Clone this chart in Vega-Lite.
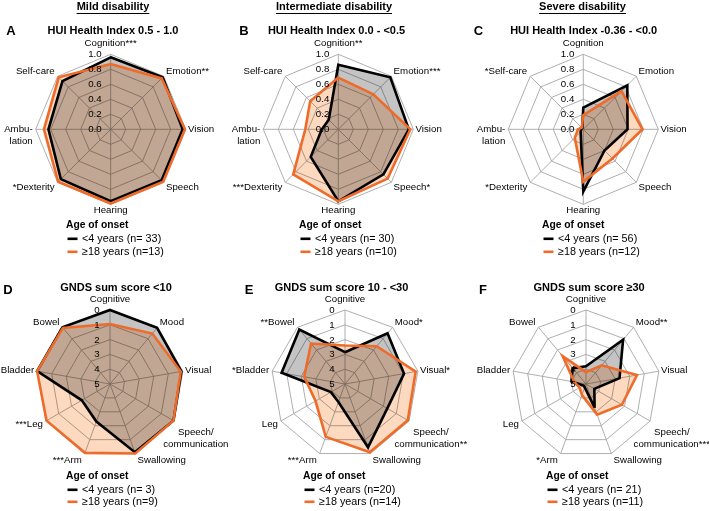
{
"$schema": "https://vega.github.io/schema/vega-lite/v6.json",
"padding": 0,
"config": {
 "font": "Liberation Sans",
 "view": {"stroke": null},
 "text": {"fontSize": 9.7, "lineBreak": "\n", "lineHeight": 12, "color": "#000", "baseline": "middle"},
 "legend": {"orient": "none", "direction": "vertical", "titleFontSize": 10.3, "titleFontWeight": "bold", "titleColor": "#000", "labelFontSize": 10.8, "labelColor": "#000", "symbolType": "stroke", "symbolStrokeWidth": 2.6, "symbolSize": 100, "rowPadding": 1, "titlePadding": 2, "labelOffset": 3, "padding": 0}
},
"datasets": {
 "rg": [{"n": 8, "g": [0.2, 0.4, 0.6, 0.8, 1.0], "t": [0, 0.2, 0.4, 0.6, 0.8, 1.0]}, {"n": 9, "g": [0, 1, 2, 3, 4], "t": [0, 1, 2, 3, 4, 5]}],
 "lg": [
  {"p": "A", "lb": "<4 years (n= 33)", "lo": "≥18 years (n=13)"},
  {"p": "B", "lb": "<4 years (n= 30)", "lo": "≥18 years (n=10)"},
  {"p": "C", "lb": "<4 years (n= 56)", "lo": "≥18 years (n=12)"},
  {"p": "D", "lb": "<4 years (n= 3)", "lo": "≥18 years (n=9)"},
  {"p": "E", "lb": "<4 years (n=20)", "lo": "≥18 years (n=14)"},
  {"p": "F", "lb": "<4 years (n= 21)", "lo": "≥18 years (n=11)"}
 ],
 "ax": [
  {"p": "A", "i": 0, "n": 8, "lab": "Cognition***", "vb": 0.96, "vo": 0.87},
  {"p": "A", "i": 1, "n": 8, "lab": "Emotion**", "vb": 0.98, "vo": 0.96},
  {"p": "A", "i": 2, "n": 8, "lab": "Vision", "vb": 0.96, "vo": 0.99},
  {"p": "A", "i": 3, "n": 8, "lab": "Speech", "vb": 0.96, "vo": 0.99},
  {"p": "A", "i": 4, "n": 8, "lab": "Hearing", "vb": 0.96, "vo": 0.99},
  {"p": "A", "i": 5, "n": 8, "lab": "*Dexterity", "vb": 0.94, "vo": 0.99},
  {"p": "A", "i": 6, "n": 8, "lab": "Ambu-\nlation", "vb": 0.83, "vo": 0.89},
  {"p": "A", "i": 7, "n": 8, "lab": "Self-care", "vb": 0.91, "vo": 0.98},
  {"p": "B", "i": 0, "n": 8, "lab": "Cognition**", "vb": 0.86, "vo": 0.69},
  {"p": "B", "i": 1, "n": 8, "lab": "Emotion***", "vb": 0.98, "vo": 0.66},
  {"p": "B", "i": 2, "n": 8, "lab": "Vision", "vb": 0.94, "vo": 0.96},
  {"p": "B", "i": 3, "n": 8, "lab": "Speech*", "vb": 0.85, "vo": 0.93},
  {"p": "B", "i": 4, "n": 8, "lab": "Hearing", "vb": 0.96, "vo": 0.96},
  {"p": "B", "i": 5, "n": 8, "lab": "***Dexterity", "vb": 0.52, "vo": 0.85},
  {"p": "B", "i": 6, "n": 8, "lab": "Ambu-\nlation", "vb": 0.22, "vo": 0.44},
  {"p": "B", "i": 7, "n": 8, "lab": "Self-care", "vb": 0.18, "vo": 0.53},
  {"p": "C", "i": 0, "n": 8, "lab": "Cognition", "vb": 0.29, "vo": 0.19},
  {"p": "C", "i": 1, "n": 8, "lab": "Emotion", "vb": 0.83, "vo": 0.72},
  {"p": "C", "i": 2, "n": 8, "lab": "Vision", "vb": 0.59, "vo": 0.79},
  {"p": "C", "i": 3, "n": 8, "lab": "Speech", "vb": 0.40, "vo": 0.55},
  {"p": "C", "i": 4, "n": 8, "lab": "Hearing", "vb": 0.83, "vo": 0.70},
  {"p": "C", "i": 5, "n": 8, "lab": "*Dexterity", "vb": 0.05, "vo": 0.16},
  {"p": "C", "i": 6, "n": 8, "lab": "Ambu-\nlation", "vb": 0.03, "vo": 0.07},
  {"p": "C", "i": 7, "n": 8, "lab": "*Self-care", "vb": 0.02, "vo": 0.03},
  {"p": "D", "i": 0, "n": 9, "lab": "Cognitive", "vb": 0, "vo": 0.95},
  {"p": "D", "i": 1, "n": 9, "lab": "Mood", "vb": 0.05, "vo": 0.55},
  {"p": "D", "i": 2, "n": 9, "lab": "Visual", "vb": 0.1, "vo": 0.15},
  {"p": "D", "i": 3, "n": 9, "lab": "Speech/\ncommunication", "vb": 0.05, "vo": 0.05},
  {"p": "D", "i": 4, "n": 9, "lab": "Swallowing", "vb": 0.1, "vo": 0},
  {"p": "D", "i": 5, "n": 9, "lab": "***Arm", "vb": 2.3, "vo": 0.05},
  {"p": "D", "i": 6, "n": 9, "lab": "***Leg", "vb": 2.8, "vo": 0.05},
  {"p": "D", "i": 7, "n": 9, "lab": "Bladder", "vb": 0, "vo": 0},
  {"p": "D", "i": 8, "n": 9, "lab": "Bowel", "vb": 0, "vo": 0.05},
  {"p": "E", "i": 0, "n": 9, "lab": "Cognitive", "vb": 2.85, "vo": 2.4},
  {"p": "E", "i": 1, "n": 9, "lab": "Mood*", "vb": 0.53, "vo": 1.67},
  {"p": "E", "i": 2, "n": 9, "lab": "Visual*", "vb": 0.95, "vo": 0.15},
  {"p": "E", "i": 3, "n": 9, "lab": "Speech/\ncommunication**", "vb": 1.7, "vo": 0.1},
  {"p": "E", "i": 4, "n": 9, "lab": "Swallowing", "vb": 0.45, "vo": 0.1},
  {"p": "E", "i": 5, "n": 9, "lab": "***Arm", "vb": 3.7, "vo": 1.2},
  {"p": "E", "i": 6, "n": 9, "lab": "Leg", "vb": 3.9, "vo": 2.7},
  {"p": "E", "i": 7, "n": 9, "lab": "*Bladder", "vb": 0.65, "vo": 2.2},
  {"p": "E", "i": 8, "n": 9, "lab": "**Bowel", "vb": 0.2, "vo": 1.43},
  {"p": "F", "i": 0, "n": 9, "lab": "Cognitive", "vb": 3.8, "vo": 4.2},
  {"p": "F", "i": 1, "n": 9, "lab": "Mood**", "vb": 1.1, "vo": 3.35},
  {"p": "F", "i": 2, "n": 9, "lab": "Visual", "vb": 2.7, "vo": 1.5},
  {"p": "F", "i": 3, "n": 9, "lab": "Speech/\ncommunication***", "vb": 4.35, "vo": 2.2},
  {"p": "F", "i": 4, "n": 9, "lab": "Swallowing", "vb": 3.3, "vo": 2.8},
  {"p": "F", "i": 5, "n": 9, "lab": "*Arm", "vb": 4.75, "vo": 4.2},
  {"p": "F", "i": 6, "n": 9, "lab": "Leg", "vb": 4.8, "vo": 4.5},
  {"p": "F", "i": 7, "n": 9, "lab": "Bladder", "vb": 4.0, "vo": 4.2},
  {"p": "F", "i": 8, "n": 9, "lab": "Bowel", "vb": 3.6, "vo": 2.55}
 ]
},
"data": {"name": "ax"},
"spacing": 20,
"resolve": {"scale": {"stroke": "independent", "fill": "independent"}, "legend": {"stroke": "independent"}},
"vconcat": [
{"spacing": 0,
 "resolve": {"scale": {"stroke": "independent", "fill": "independent"}, "legend": {"stroke": "independent"}},
 "hconcat": [
 {"width": 224, "height": 216,
  "transform": [{"filter": "datum.p=='A'"}, {"calculate": "2*PI*datum.i/datum.n", "as": "a"}],
  "encoding": {
   "x": {"field": "x", "type": "quantitative", "scale": {"domain": [-1.476, 1.5107], "nice": false, "zero": false}, "axis": null},
   "y": {"field": "y", "type": "quantitative", "scale": {"domain": [-1.156, 1.724], "nice": false, "zero": false}, "axis": null}},
  "layer": [
   {"transform": [{"lookup": "n", "from": {"data": {"name": "rg"}, "key": "n", "fields": ["g"]}}, {"flatten": ["g"]}, {"calculate": "datum.n==8?datum.g:(5-datum.g)/5", "as": "r"}, {"calculate": "datum.r*sin(datum.a)", "as": "x"}, {"calculate": "datum.r*cos(datum.a)", "as": "y"}],
    "mark": {"type": "line", "interpolate": "linear-closed", "stroke": "#a6a6a6", "strokeWidth": 0.9},
    "encoding": {"detail": {"field": "g", "type": "nominal"}, "order": {"field": "i", "type": "quantitative"}}},
   {"transform": [{"calculate": "sin(datum.a)", "as": "x"}, {"calculate": "cos(datum.a)", "as": "y"}, {"calculate": "0", "as": "z"}],
    "mark": {"type": "rule", "stroke": "#a6a6a6", "strokeWidth": 0.9},
    "encoding": {"x2": {"field": "z"}, "y2": {"field": "z"}}},
   {"transform": [{"lookup": "p", "from": {"data": {"name": "lg"}, "key": "p", "fields": ["lb", "lo"]}}, {"fold": ["vb", "vo"], "as": ["k", "v"]}, {"calculate": "datum.n==8?datum.v:(5-datum.v)/5", "as": "r"}, {"calculate": "datum.r*sin(datum.a)", "as": "x"}, {"calculate": "datum.r*cos(datum.a)", "as": "y"}, {"calculate": "datum.k=='vb'?datum.lb:datum.lo", "as": "grp"}],
    "encoding": {"order": {"field": "i", "type": "quantitative"}},
    "layer": [
     {"mark": {"type": "line", "interpolate": "linear-closed", "filled": true, "blend": "multiply", "strokeWidth": 0},
      "encoding": {"fill": {"field": "k", "type": "nominal", "scale": {"domain": ["vb", "vo"], "range": ["#c4c4c4", "#fcd9bf"]}, "legend": null}}},
     {"mark": {"type": "line", "interpolate": "linear-closed", "strokeWidth": 2.6},
      "encoding": {"stroke": {"field": "grp", "type": "nominal", "scale": {"range": ["#000000", "#ee6b2a"]}, "legend": {"title": "Age of onset", "legendX": 66, "legendY": 220}}}}]},
   {"transform": [{"calculate": "sin(datum.a)", "as": "s"}, {"calculate": "cos(datum.a)", "as": "c"}, {"calculate": "indexof(datum.lab,'\\n')>=0", "as": "ml"}],
    "encoding": {"text": {"field": "lab", "type": "nominal"}},
    "layer": [
     {"transform": [{"filter": "datum.s>0.1 && !datum.ml"}, {"calculate": "datum.s+0.03", "as": "x"}, {"calculate": "datum.c*1.09", "as": "y"}], "mark": {"type": "text", "align": "left"}},
     {"transform": [{"filter": "datum.s<-0.1"}, {"calculate": "datum.s-0.04", "as": "x"}, {"calculate": "datum.c*1.09", "as": "y"}], "mark": {"type": "text", "align": "right"}},
     {"transform": [{"filter": "abs(datum.s)<=0.1 || (datum.ml && datum.s>0)"}, {"calculate": "datum.ml?1.16:0", "as": "x"}, {"calculate": "datum.i==0?1.15:(datum.ml?-0.655:-1.07)", "as": "y"}], "mark": {"type": "text", "align": "center"}}]},
   {"transform": [{"filter": "datum.i==0"}, {"lookup": "n", "from": {"data": {"name": "rg"}, "key": "n", "fields": ["t"]}}, {"flatten": ["t"]}, {"calculate": "datum.n==8?datum.t:(5-datum.t)/5", "as": "y"}, {"calculate": "-0.12", "as": "x"}, {"calculate": "datum.n==8?format(datum.t,'.1f'):format(datum.t,'d')", "as": "tl"}],
    "mark": {"type": "text", "align": "right"}, "encoding": {"text": {"field": "tl", "type": "nominal"}}},
   {"transform": [{"filter": "datum.i==0"}, {"calculate": "-1.33", "as": "x"}, {"calculate": "1.311", "as": "y"}],
    "mark": {"type": "text", "align": "center", "fontSize": 13, "fontWeight": "bold"}, "encoding": {"text": {"field": "p", "type": "nominal"}}},
   {"transform": [{"filter": "datum.i==0"}, {"calculate": "0.031", "as": "x"}, {"calculate": "1.311", "as": "y"}],
    "mark": {"type": "text", "align": "center", "fontSize": 11, "fontWeight": "bold", "text": "HUI Health Index 0.5 - 1.0"}, "encoding": {}},
   {"transform": [{"filter": "datum.i==0"}, {"calculate": "0.031", "as": "x"}, {"calculate": "1.631", "as": "y"}],
    "mark": {"type": "text", "align": "center", "fontSize": 11, "fontWeight": "bold", "text": "Mild disability"}, "encoding": {}},
   {"transform": [{"filter": "datum.i==0"}, {"calculate": "-0.455", "as": "x"}, {"calculate": "0.516", "as": "xe"}, {"calculate": "1.544", "as": "y"}],
    "mark": {"type": "rule", "stroke": "#000", "strokeWidth": 1}, "encoding": {"x2": {"field": "xe"}}}
  ]},
 {"width": 241, "height": 216,
  "transform": [{"filter": "datum.p=='B'"}, {"calculate": "2*PI*datum.i/datum.n", "as": "a"}],
  "encoding": {
   "x": {"field": "x", "type": "quantitative", "scale": {"domain": [-1.524, 1.689], "nice": false, "zero": false}, "axis": null},
   "y": {"field": "y", "type": "quantitative", "scale": {"domain": [-1.156, 1.724], "nice": false, "zero": false}, "axis": null}},
  "layer": [
   {"transform": [{"lookup": "n", "from": {"data": {"name": "rg"}, "key": "n", "fields": ["g"]}}, {"flatten": ["g"]}, {"calculate": "datum.n==8?datum.g:(5-datum.g)/5", "as": "r"}, {"calculate": "datum.r*sin(datum.a)", "as": "x"}, {"calculate": "datum.r*cos(datum.a)", "as": "y"}],
    "mark": {"type": "line", "interpolate": "linear-closed", "stroke": "#a6a6a6", "strokeWidth": 0.9},
    "encoding": {"detail": {"field": "g", "type": "nominal"}, "order": {"field": "i", "type": "quantitative"}}},
   {"transform": [{"calculate": "sin(datum.a)", "as": "x"}, {"calculate": "cos(datum.a)", "as": "y"}, {"calculate": "0", "as": "z"}],
    "mark": {"type": "rule", "stroke": "#a6a6a6", "strokeWidth": 0.9},
    "encoding": {"x2": {"field": "z"}, "y2": {"field": "z"}}},
   {"transform": [{"lookup": "p", "from": {"data": {"name": "lg"}, "key": "p", "fields": ["lb", "lo"]}}, {"fold": ["vb", "vo"], "as": ["k", "v"]}, {"calculate": "datum.n==8?datum.v:(5-datum.v)/5", "as": "r"}, {"calculate": "datum.r*sin(datum.a)", "as": "x"}, {"calculate": "datum.r*cos(datum.a)", "as": "y"}, {"calculate": "datum.k=='vb'?datum.lb:datum.lo", "as": "grp"}],
    "encoding": {"order": {"field": "i", "type": "quantitative"}},
    "layer": [
     {"mark": {"type": "line", "interpolate": "linear-closed", "filled": true, "blend": "multiply", "strokeWidth": 0},
      "encoding": {"fill": {"field": "k", "type": "nominal", "scale": {"domain": ["vb", "vo"], "range": ["#c4c4c4", "#fcd9bf"]}, "legend": null}}},
     {"mark": {"type": "line", "interpolate": "linear-closed", "strokeWidth": 2.6},
      "encoding": {"stroke": {"field": "grp", "type": "nominal", "scale": {"range": ["#000000", "#ee6b2a"]}, "legend": {"title": "Age of onset", "legendX": 75, "legendY": 220}}}}]},
   {"transform": [{"calculate": "sin(datum.a)", "as": "s"}, {"calculate": "cos(datum.a)", "as": "c"}, {"calculate": "indexof(datum.lab,'\\n')>=0", "as": "ml"}],
    "encoding": {"text": {"field": "lab", "type": "nominal"}},
    "layer": [
     {"transform": [{"filter": "datum.s>0.1 && !datum.ml"}, {"calculate": "datum.s+0.03", "as": "x"}, {"calculate": "datum.c*1.09", "as": "y"}], "mark": {"type": "text", "align": "left"}},
     {"transform": [{"filter": "datum.s<-0.1"}, {"calculate": "datum.s-0.04", "as": "x"}, {"calculate": "datum.c*1.09", "as": "y"}], "mark": {"type": "text", "align": "right"}},
     {"transform": [{"filter": "abs(datum.s)<=0.1 || (datum.ml && datum.s>0)"}, {"calculate": "datum.ml?1.16:0", "as": "x"}, {"calculate": "datum.i==0?1.15:(datum.ml?-0.655:-1.07)", "as": "y"}], "mark": {"type": "text", "align": "center"}}]},
   {"transform": [{"filter": "datum.i==0"}, {"lookup": "n", "from": {"data": {"name": "rg"}, "key": "n", "fields": ["t"]}}, {"flatten": ["t"]}, {"calculate": "datum.n==8?datum.t:(5-datum.t)/5", "as": "y"}, {"calculate": "-0.12", "as": "x"}, {"calculate": "datum.n==8?format(datum.t,'.1f'):format(datum.t,'d')", "as": "tl"}],
    "mark": {"type": "text", "align": "right"}, "encoding": {"text": {"field": "tl", "type": "nominal"}}},
   {"transform": [{"filter": "datum.i==0"}, {"calculate": "-1.257", "as": "x"}, {"calculate": "1.311", "as": "y"}],
    "mark": {"type": "text", "align": "center", "fontSize": 13, "fontWeight": "bold"}, "encoding": {"text": {"field": "p", "type": "nominal"}}},
   {"transform": [{"filter": "datum.i==0"}, {"calculate": "-0.024", "as": "x"}, {"calculate": "1.311", "as": "y"}],
    "mark": {"type": "text", "align": "center", "fontSize": 11, "fontWeight": "bold", "text": "HUI Health Index 0.0 - <0.5"}, "encoding": {}},
   {"transform": [{"filter": "datum.i==0"}, {"calculate": "-0.057", "as": "x"}, {"calculate": "1.631", "as": "y"}],
    "mark": {"type": "text", "align": "center", "fontSize": 11, "fontWeight": "bold", "text": "Intermediate disability"}, "encoding": {}},
   {"transform": [{"filter": "datum.i==0"}, {"calculate": "-0.831", "as": "x"}, {"calculate": "0.716", "as": "xe"}, {"calculate": "1.544", "as": "y"}],
    "mark": {"type": "rule", "stroke": "#000", "strokeWidth": 1}, "encoding": {"x2": {"field": "xe"}}}
  ]},
 {"width": 244, "height": 216,
  "transform": [{"filter": "datum.p=='C'"}, {"calculate": "2*PI*datum.i/datum.n", "as": "a"}],
  "encoding": {
   "x": {"field": "x", "type": "quantitative", "scale": {"domain": [-1.577, 1.676], "nice": false, "zero": false}, "axis": null},
   "y": {"field": "y", "type": "quantitative", "scale": {"domain": [-1.156, 1.724], "nice": false, "zero": false}, "axis": null}},
  "layer": [
   {"transform": [{"lookup": "n", "from": {"data": {"name": "rg"}, "key": "n", "fields": ["g"]}}, {"flatten": ["g"]}, {"calculate": "datum.n==8?datum.g:(5-datum.g)/5", "as": "r"}, {"calculate": "datum.r*sin(datum.a)", "as": "x"}, {"calculate": "datum.r*cos(datum.a)", "as": "y"}],
    "mark": {"type": "line", "interpolate": "linear-closed", "stroke": "#a6a6a6", "strokeWidth": 0.9},
    "encoding": {"detail": {"field": "g", "type": "nominal"}, "order": {"field": "i", "type": "quantitative"}}},
   {"transform": [{"calculate": "sin(datum.a)", "as": "x"}, {"calculate": "cos(datum.a)", "as": "y"}, {"calculate": "0", "as": "z"}],
    "mark": {"type": "rule", "stroke": "#a6a6a6", "strokeWidth": 0.9},
    "encoding": {"x2": {"field": "z"}, "y2": {"field": "z"}}},
   {"transform": [{"lookup": "p", "from": {"data": {"name": "lg"}, "key": "p", "fields": ["lb", "lo"]}}, {"fold": ["vb", "vo"], "as": ["k", "v"]}, {"calculate": "datum.n==8?datum.v:(5-datum.v)/5", "as": "r"}, {"calculate": "datum.r*sin(datum.a)", "as": "x"}, {"calculate": "datum.r*cos(datum.a)", "as": "y"}, {"calculate": "datum.k=='vb'?datum.lb:datum.lo", "as": "grp"}],
    "encoding": {"order": {"field": "i", "type": "quantitative"}},
    "layer": [
     {"mark": {"type": "line", "interpolate": "linear-closed", "filled": true, "blend": "multiply", "strokeWidth": 0},
      "encoding": {"fill": {"field": "k", "type": "nominal", "scale": {"domain": ["vb", "vo"], "range": ["#c4c4c4", "#fcd9bf"]}, "legend": null}}},
     {"mark": {"type": "line", "interpolate": "linear-closed", "strokeWidth": 2.6},
      "encoding": {"stroke": {"field": "grp", "type": "nominal", "scale": {"range": ["#000000", "#ee6b2a"]}, "legend": {"title": "Age of onset", "legendX": 77, "legendY": 220}}}}]},
   {"transform": [{"calculate": "sin(datum.a)", "as": "s"}, {"calculate": "cos(datum.a)", "as": "c"}, {"calculate": "indexof(datum.lab,'\\n')>=0", "as": "ml"}],
    "encoding": {"text": {"field": "lab", "type": "nominal"}},
    "layer": [
     {"transform": [{"filter": "datum.s>0.1 && !datum.ml"}, {"calculate": "datum.s+0.03", "as": "x"}, {"calculate": "datum.c*1.09", "as": "y"}], "mark": {"type": "text", "align": "left"}},
     {"transform": [{"filter": "datum.s<-0.1"}, {"calculate": "datum.s-0.04", "as": "x"}, {"calculate": "datum.c*1.09", "as": "y"}], "mark": {"type": "text", "align": "right"}},
     {"transform": [{"filter": "abs(datum.s)<=0.1 || (datum.ml && datum.s>0)"}, {"calculate": "datum.ml?1.16:0", "as": "x"}, {"calculate": "datum.i==0?1.15:(datum.ml?-0.655:-1.07)", "as": "y"}], "mark": {"type": "text", "align": "center"}}]},
   {"transform": [{"filter": "datum.i==0"}, {"lookup": "n", "from": {"data": {"name": "rg"}, "key": "n", "fields": ["t"]}}, {"flatten": ["t"]}, {"calculate": "datum.n==8?datum.t:(5-datum.t)/5", "as": "y"}, {"calculate": "-0.12", "as": "x"}, {"calculate": "datum.n==8?format(datum.t,'.1f'):format(datum.t,'d')", "as": "tl"}],
    "mark": {"type": "text", "align": "right"}, "encoding": {"text": {"field": "tl", "type": "nominal"}}},
   {"transform": [{"filter": "datum.i==0"}, {"calculate": "-1.397", "as": "x"}, {"calculate": "1.311", "as": "y"}],
    "mark": {"type": "text", "align": "center", "fontSize": 13, "fontWeight": "bold"}, "encoding": {"text": {"field": "p", "type": "nominal"}}},
   {"transform": [{"filter": "datum.i==0"}, {"calculate": "0.005", "as": "x"}, {"calculate": "1.311", "as": "y"}],
    "mark": {"type": "text", "align": "center", "fontSize": 11, "fontWeight": "bold", "text": "HUI Health Index -0.36 - <0.0"}, "encoding": {}},
   {"transform": [{"filter": "datum.i==0"}, {"calculate": "-0.011", "as": "x"}, {"calculate": "1.631", "as": "y"}],
    "mark": {"type": "text", "align": "center", "fontSize": 11, "fontWeight": "bold", "text": "Severe disability"}, "encoding": {}},
   {"transform": [{"filter": "datum.i==0"}, {"calculate": "-0.589", "as": "x"}, {"calculate": "0.568", "as": "xe"}, {"calculate": "1.544", "as": "y"}],
    "mark": {"type": "rule", "stroke": "#000", "strokeWidth": 1}, "encoding": {"x2": {"field": "xe"}}}
  ]}
 ]},
{"spacing": 0,
 "resolve": {"scale": {"stroke": "independent", "fill": "independent"}, "legend": {"stroke": "independent"}},
 "hconcat": [
 {"width": 224, "height": 193,
  "transform": [{"filter": "datum.p=='D'"}, {"calculate": "2*PI*datum.i/datum.n", "as": "a"}],
  "encoding": {
   "x": {"field": "x", "type": "quantitative", "scale": {"domain": [-1.4865, 1.5405], "nice": false, "zero": false}, "axis": null},
   "y": {"field": "y", "type": "quantitative", "scale": {"domain": [-1.162, 1.446], "nice": false, "zero": false}, "axis": null}},
  "layer": [
   {"transform": [{"lookup": "n", "from": {"data": {"name": "rg"}, "key": "n", "fields": ["g"]}}, {"flatten": ["g"]}, {"calculate": "datum.n==8?datum.g:(5-datum.g)/5", "as": "r"}, {"calculate": "datum.r*sin(datum.a)", "as": "x"}, {"calculate": "datum.r*cos(datum.a)", "as": "y"}],
    "mark": {"type": "line", "interpolate": "linear-closed", "stroke": "#a6a6a6", "strokeWidth": 0.9},
    "encoding": {"detail": {"field": "g", "type": "nominal"}, "order": {"field": "i", "type": "quantitative"}}},
   {"transform": [{"calculate": "sin(datum.a)", "as": "x"}, {"calculate": "cos(datum.a)", "as": "y"}, {"calculate": "0", "as": "z"}],
    "mark": {"type": "rule", "stroke": "#a6a6a6", "strokeWidth": 0.9},
    "encoding": {"x2": {"field": "z"}, "y2": {"field": "z"}}},
   {"transform": [{"lookup": "p", "from": {"data": {"name": "lg"}, "key": "p", "fields": ["lb", "lo"]}}, {"fold": ["vb", "vo"], "as": ["k", "v"]}, {"calculate": "datum.n==8?datum.v:(5-datum.v)/5", "as": "r"}, {"calculate": "datum.r*sin(datum.a)", "as": "x"}, {"calculate": "datum.r*cos(datum.a)", "as": "y"}, {"calculate": "datum.k=='vb'?datum.lb:datum.lo", "as": "grp"}],
    "encoding": {"order": {"field": "i", "type": "quantitative"}},
    "layer": [
     {"mark": {"type": "line", "interpolate": "linear-closed", "filled": true, "blend": "multiply", "strokeWidth": 0},
      "encoding": {"fill": {"field": "k", "type": "nominal", "scale": {"domain": ["vb", "vo"], "range": ["#c4c4c4", "#fcd9bf"]}, "legend": null}}},
     {"mark": {"type": "line", "interpolate": "linear-closed", "strokeWidth": 2.6},
      "encoding": {"stroke": {"field": "grp", "type": "nominal", "scale": {"range": ["#000000", "#ee6b2a"]}, "legend": {"title": "Age of onset", "legendX": 66, "legendY": 194, "rowPadding": 0}}}}]},
   {"transform": [{"calculate": "sin(datum.a)", "as": "s"}, {"calculate": "cos(datum.a)", "as": "c"}, {"calculate": "indexof(datum.lab,'\\n')>=0", "as": "ml"}],
    "encoding": {"text": {"field": "lab", "type": "nominal"}},
    "layer": [
     {"transform": [{"filter": "datum.s>0.1 && !datum.ml"}, {"calculate": "datum.s+0.03", "as": "x"}, {"calculate": "datum.c*1.09", "as": "y"}], "mark": {"type": "text", "align": "left"}},
     {"transform": [{"filter": "datum.s<-0.1"}, {"calculate": "datum.s-0.04", "as": "x"}, {"calculate": "datum.c*1.09", "as": "y"}], "mark": {"type": "text", "align": "right"}},
     {"transform": [{"filter": "abs(datum.s)<=0.1 || (datum.ml && datum.s>0)"}, {"calculate": "datum.ml?1.16:0", "as": "x"}, {"calculate": "datum.i==0?1.15:(datum.ml?-0.655:-1.07)", "as": "y"}], "mark": {"type": "text", "align": "center"}}]},
   {"transform": [{"filter": "datum.i==0"}, {"lookup": "n", "from": {"data": {"name": "rg"}, "key": "n", "fields": ["t"]}}, {"flatten": ["t"]}, {"calculate": "datum.n==8?datum.t:(5-datum.t)/5", "as": "y"}, {"calculate": "-0.14", "as": "x"}, {"calculate": "datum.n==8?format(datum.t,'.1f'):format(datum.t,'d')", "as": "tl"}],
    "mark": {"type": "text", "align": "right"}, "encoding": {"text": {"field": "tl", "type": "nominal"}}},
   {"transform": [{"filter": "datum.i==0"}, {"calculate": "-1.378", "as": "x"}, {"calculate": "1.27", "as": "y"}],
    "mark": {"type": "text", "align": "center", "fontSize": 13, "fontWeight": "bold"}, "encoding": {"text": {"field": "p", "type": "nominal"}}},
   {"transform": [{"filter": "datum.i==0"}, {"calculate": "0.081", "as": "x"}, {"calculate": "1.30", "as": "y"}],
    "mark": {"type": "text", "align": "center", "fontSize": 11, "fontWeight": "bold", "text": "GNDS sum score <10"}, "encoding": {}}
  ]},
 {"width": 241, "height": 193,
  "transform": [{"filter": "datum.p=='E'"}, {"calculate": "2*PI*datum.i/datum.n", "as": "a"}],
  "encoding": {
   "x": {"field": "x", "type": "quantitative", "scale": {"domain": [-1.5676, 1.6892], "nice": false, "zero": false}, "axis": null},
   "y": {"field": "y", "type": "quantitative", "scale": {"domain": [-1.162, 1.446], "nice": false, "zero": false}, "axis": null}},
  "layer": [
   {"transform": [{"lookup": "n", "from": {"data": {"name": "rg"}, "key": "n", "fields": ["g"]}}, {"flatten": ["g"]}, {"calculate": "datum.n==8?datum.g:(5-datum.g)/5", "as": "r"}, {"calculate": "datum.r*sin(datum.a)", "as": "x"}, {"calculate": "datum.r*cos(datum.a)", "as": "y"}],
    "mark": {"type": "line", "interpolate": "linear-closed", "stroke": "#a6a6a6", "strokeWidth": 0.9},
    "encoding": {"detail": {"field": "g", "type": "nominal"}, "order": {"field": "i", "type": "quantitative"}}},
   {"transform": [{"calculate": "sin(datum.a)", "as": "x"}, {"calculate": "cos(datum.a)", "as": "y"}, {"calculate": "0", "as": "z"}],
    "mark": {"type": "rule", "stroke": "#a6a6a6", "strokeWidth": 0.9},
    "encoding": {"x2": {"field": "z"}, "y2": {"field": "z"}}},
   {"transform": [{"lookup": "p", "from": {"data": {"name": "lg"}, "key": "p", "fields": ["lb", "lo"]}}, {"fold": ["vb", "vo"], "as": ["k", "v"]}, {"calculate": "datum.n==8?datum.v:(5-datum.v)/5", "as": "r"}, {"calculate": "datum.r*sin(datum.a)", "as": "x"}, {"calculate": "datum.r*cos(datum.a)", "as": "y"}, {"calculate": "datum.k=='vb'?datum.lb:datum.lo", "as": "grp"}],
    "encoding": {"order": {"field": "i", "type": "quantitative"}},
    "layer": [
     {"mark": {"type": "line", "interpolate": "linear-closed", "filled": true, "blend": "multiply", "strokeWidth": 0},
      "encoding": {"fill": {"field": "k", "type": "nominal", "scale": {"domain": ["vb", "vo"], "range": ["#c4c4c4", "#fcd9bf"]}, "legend": null}}},
     {"mark": {"type": "line", "interpolate": "linear-closed", "strokeWidth": 2.6},
      "encoding": {"stroke": {"field": "grp", "type": "nominal", "scale": {"range": ["#000000", "#ee6b2a"]}, "legend": {"title": "Age of onset", "legendX": 74, "legendY": 194, "rowPadding": 0}}}}]},
   {"transform": [{"calculate": "sin(datum.a)", "as": "s"}, {"calculate": "cos(datum.a)", "as": "c"}, {"calculate": "indexof(datum.lab,'\\n')>=0", "as": "ml"}],
    "encoding": {"text": {"field": "lab", "type": "nominal"}},
    "layer": [
     {"transform": [{"filter": "datum.s>0.1 && !datum.ml"}, {"calculate": "datum.s+0.03", "as": "x"}, {"calculate": "datum.c*1.09", "as": "y"}], "mark": {"type": "text", "align": "left"}},
     {"transform": [{"filter": "datum.s<-0.1"}, {"calculate": "datum.s-0.04", "as": "x"}, {"calculate": "datum.c*1.09", "as": "y"}], "mark": {"type": "text", "align": "right"}},
     {"transform": [{"filter": "abs(datum.s)<=0.1 || (datum.ml && datum.s>0)"}, {"calculate": "datum.ml?1.16:0", "as": "x"}, {"calculate": "datum.i==0?1.15:(datum.ml?-0.655:-1.07)", "as": "y"}], "mark": {"type": "text", "align": "center"}}]},
   {"transform": [{"filter": "datum.i==0"}, {"lookup": "n", "from": {"data": {"name": "rg"}, "key": "n", "fields": ["t"]}}, {"flatten": ["t"]}, {"calculate": "datum.n==8?datum.t:(5-datum.t)/5", "as": "y"}, {"calculate": "-0.14", "as": "x"}, {"calculate": "datum.n==8?format(datum.t,'.1f'):format(datum.t,'d')", "as": "tl"}],
    "mark": {"type": "text", "align": "right"}, "encoding": {"text": {"field": "tl", "type": "nominal"}}},
   {"transform": [{"filter": "datum.i==0"}, {"calculate": "-1.297", "as": "x"}, {"calculate": "1.27", "as": "y"}],
    "mark": {"type": "text", "align": "center", "fontSize": 13, "fontWeight": "bold"}, "encoding": {"text": {"field": "p", "type": "nominal"}}},
   {"transform": [{"filter": "datum.i==0"}, {"calculate": "-0.047", "as": "x"}, {"calculate": "1.30", "as": "y"}],
    "mark": {"type": "text", "align": "center", "fontSize": 11, "fontWeight": "bold", "text": "GNDS sum score 10 - <30"}, "encoding": {}}
  ]},
 {"width": 244, "height": 193,
  "transform": [{"filter": "datum.p=='F'"}, {"calculate": "2*PI*datum.i/datum.n", "as": "a"}],
  "encoding": {
   "x": {"field": "x", "type": "quantitative", "scale": {"domain": [-1.5676, 1.7297], "nice": false, "zero": false}, "axis": null},
   "y": {"field": "y", "type": "quantitative", "scale": {"domain": [-1.162, 1.446], "nice": false, "zero": false}, "axis": null}},
  "layer": [
   {"transform": [{"lookup": "n", "from": {"data": {"name": "rg"}, "key": "n", "fields": ["g"]}}, {"flatten": ["g"]}, {"calculate": "datum.n==8?datum.g:(5-datum.g)/5", "as": "r"}, {"calculate": "datum.r*sin(datum.a)", "as": "x"}, {"calculate": "datum.r*cos(datum.a)", "as": "y"}],
    "mark": {"type": "line", "interpolate": "linear-closed", "stroke": "#a6a6a6", "strokeWidth": 0.9},
    "encoding": {"detail": {"field": "g", "type": "nominal"}, "order": {"field": "i", "type": "quantitative"}}},
   {"transform": [{"calculate": "sin(datum.a)", "as": "x"}, {"calculate": "cos(datum.a)", "as": "y"}, {"calculate": "0", "as": "z"}],
    "mark": {"type": "rule", "stroke": "#a6a6a6", "strokeWidth": 0.9},
    "encoding": {"x2": {"field": "z"}, "y2": {"field": "z"}}},
   {"transform": [{"lookup": "p", "from": {"data": {"name": "lg"}, "key": "p", "fields": ["lb", "lo"]}}, {"fold": ["vb", "vo"], "as": ["k", "v"]}, {"calculate": "datum.n==8?datum.v:(5-datum.v)/5", "as": "r"}, {"calculate": "datum.r*sin(datum.a)", "as": "x"}, {"calculate": "datum.r*cos(datum.a)", "as": "y"}, {"calculate": "datum.k=='vb'?datum.lb:datum.lo", "as": "grp"}],
    "encoding": {"order": {"field": "i", "type": "quantitative"}},
    "layer": [
     {"mark": {"type": "line", "interpolate": "linear-closed", "filled": true, "blend": "multiply", "strokeWidth": 0},
      "encoding": {"fill": {"field": "k", "type": "nominal", "scale": {"domain": ["vb", "vo"], "range": ["#c4c4c4", "#fcd9bf"]}, "legend": null}}},
     {"mark": {"type": "line", "interpolate": "linear-closed", "strokeWidth": 2.6},
      "encoding": {"stroke": {"field": "grp", "type": "nominal", "scale": {"range": ["#000000", "#ee6b2a"]}, "legend": {"title": "Age of onset", "legendX": 76, "legendY": 194, "rowPadding": 0}}}}]},
   {"transform": [{"calculate": "sin(datum.a)", "as": "s"}, {"calculate": "cos(datum.a)", "as": "c"}, {"calculate": "indexof(datum.lab,'\\n')>=0", "as": "ml"}],
    "encoding": {"text": {"field": "lab", "type": "nominal"}},
    "layer": [
     {"transform": [{"filter": "datum.s>0.1 && !datum.ml"}, {"calculate": "datum.s+0.03", "as": "x"}, {"calculate": "datum.c*1.09", "as": "y"}], "mark": {"type": "text", "align": "left"}},
     {"transform": [{"filter": "datum.s<-0.1"}, {"calculate": "datum.s-0.04", "as": "x"}, {"calculate": "datum.c*1.09", "as": "y"}], "mark": {"type": "text", "align": "right"}},
     {"transform": [{"filter": "abs(datum.s)<=0.1 || (datum.ml && datum.s>0)"}, {"calculate": "datum.ml?1.16:0", "as": "x"}, {"calculate": "datum.i==0?1.15:(datum.ml?-0.655:-1.07)", "as": "y"}], "mark": {"type": "text", "align": "center"}}]},
   {"transform": [{"filter": "datum.i==0"}, {"lookup": "n", "from": {"data": {"name": "rg"}, "key": "n", "fields": ["t"]}}, {"flatten": ["t"]}, {"calculate": "datum.n==8?datum.t:(5-datum.t)/5", "as": "y"}, {"calculate": "-0.14", "as": "x"}, {"calculate": "datum.n==8?format(datum.t,'.1f'):format(datum.t,'d')", "as": "tl"}],
    "mark": {"type": "text", "align": "right"}, "encoding": {"text": {"field": "tl", "type": "nominal"}}},
   {"transform": [{"filter": "datum.i==0"}, {"calculate": "-1.392", "as": "x"}, {"calculate": "1.27", "as": "y"}],
    "mark": {"type": "text", "align": "center", "fontSize": 13, "fontWeight": "bold"}, "encoding": {"text": {"field": "p", "type": "nominal"}}},
   {"transform": [{"filter": "datum.i==0"}, {"calculate": "0.041", "as": "x"}, {"calculate": "1.30", "as": "y"}],
    "mark": {"type": "text", "align": "center", "fontSize": 11, "fontWeight": "bold", "text": "GNDS sum score ≥30"}, "encoding": {}}
  ]}
 ]}
]
}
